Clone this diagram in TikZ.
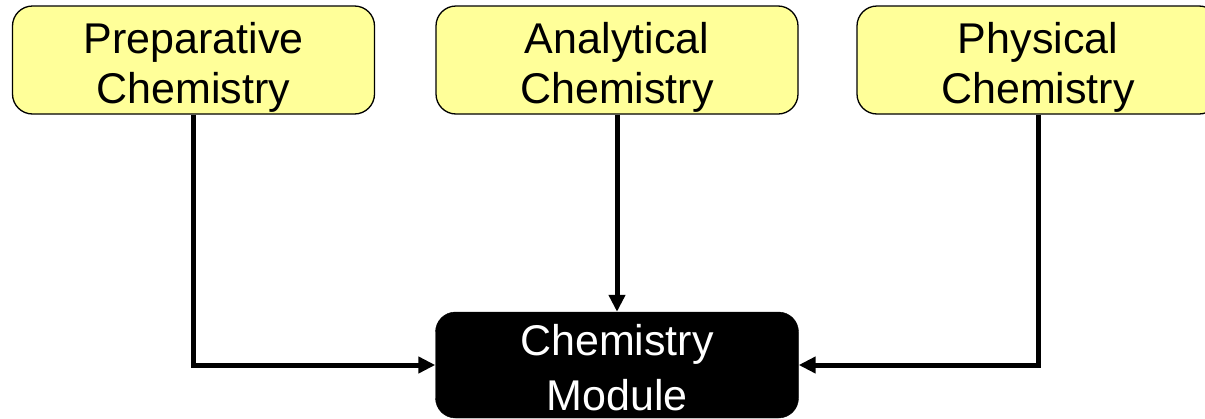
\documentclass[tikz,border=0pt]{standalone}
\usepackage{fontspec}
\setmainfont{Liberation Sans}
\usetikzlibrary{arrows.meta}
\definecolor{paleyellow}{RGB}{255,255,153}
\tikzset{
  topic/.style={draw=black, line width=1.3pt, fill=paleyellow, rounded corners=20pt,
    minimum width=362pt, minimum height=108pt, inner sep=0pt},
  module/.style={draw=black, fill=black, rounded corners=20pt,
    minimum width=363pt, minimum height=106pt, inner sep=0pt},
  lbl/.style={anchor=base, inner sep=0pt, font=\fontsize{43pt}{50pt}\selectfont},
  modlbl/.style={lbl, text=white},
  feed/.style={line width=5pt, -{Triangle[length=17pt,width=16pt]}}
}
\begin{document}
\begin{tikzpicture}[x=1pt, y=-1pt]
  \useasboundingbox (0,0) rectangle (1205,418);
  \clip (0,0) rectangle (1205,418);
  \fill[white] (0,0) rectangle (1205,418);
  % three source topics
  \node[topic] (prep) at (193.5,60) {};
  \node[lbl] (prep1) at (193.5,53) {Preparative};
  \node[lbl] (prep2) at (193.5,103) {Chemistry};
  \node[topic] (anal) at (617,60) {};
  \node[lbl] (anal1) at (617,53) {Analytical};
  \node[lbl] (anal2) at (617,103) {Chemistry};
  \node[topic] (phys) at (1038,60) {};
  \node[lbl] (phys1) at (1038,53) {Physical};
  \node[lbl] (phys2) at (1038,103) {Chemistry};
  % target module
  \node[module] (mod) at (617,365) {};
  \node[modlbl] (mod1) at (617,355) {Chemistry};
  \node[modlbl] (mod2) at (617,410) {Module};
  % connectors
  \draw[feed] (prep.south) -- (prep.south |- mod.west) -- (mod.west);
  \draw[feed] (anal.south) -- (mod.north);
  \draw[feed] (phys.south) -- (phys.south |- mod.east) -- (mod.east);
\end{tikzpicture}
\end{document}
